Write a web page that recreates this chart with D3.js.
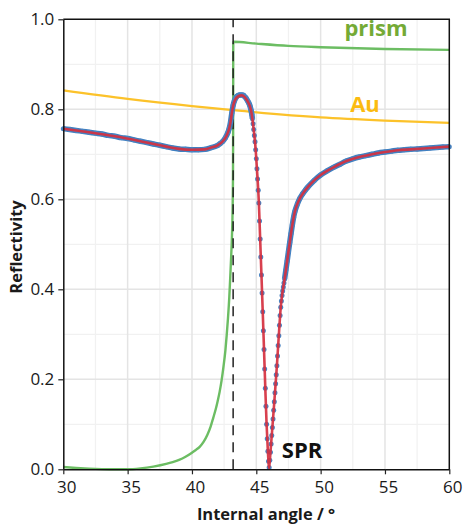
<!DOCTYPE html>
<html>
<head>
<meta charset="utf-8">
<script src="https://cdn.jsdelivr.net/npm/d3@7"></script>
<style>
  body { margin: 0; background: #fff; }
  text { font-family: "Open Sans", "Noto Sans", sans-serif; }
</style>
</head>
<body>
<script>
// ---- data ----
const xTicks = [30, 35, 40, 45, 50, 55, 60]
const yTicks = [0, 0.2, 0.4, 0.6, 0.8, 1.0]
const criticalAngle = 43.2

// prism reflectivity (green)
const prism = [
  [30, 0.005], [31, 0.003], [32, 0.0015], [33, 0.0005], [34, 0], [35, 0], [36, 0.002],
  [37, 0.006], [38, 0.012], [38.5, 0.016], [39, 0.021], [39.5, 0.028], [40, 0.037],
  [40.3, 0.043], [40.6, 0.05], [40.9, 0.061], [41.2, 0.077], [41.45, 0.095],
  [41.66, 0.115], [41.85, 0.134], [42, 0.152], [42.15, 0.172], [42.3, 0.197],
  [42.45, 0.228], [42.6, 0.265], [42.7, 0.298], [42.8, 0.336], [42.9, 0.382],
  [42.98, 0.43], [43.05, 0.475], [43.11, 0.52], [43.16, 0.58], [43.19, 0.66],
  [43.2, 0.75], [43.21, 0.95],
  [45, 0.946], [47.5, 0.941], [50, 0.938], [55, 0.934], [60, 0.932]
]

// Au layer reflectivity (gold)
const gold = [[30, 0.842], [35, 0.823], [40, 0.807], [43.2, 0.798], [50, 0.782], [55, 0.775], [60, 0.770]]

// measured points (blue)
const measured = [
  [30, 0.757], [30.5, 0.755], [31, 0.753], [31.5, 0.751], [32, 0.749], [32.5, 0.747],
  [33, 0.745], [33.5, 0.742], [34, 0.740], [34.5, 0.737], [35, 0.735], [35.5, 0.732],
  [36, 0.729], [36.5, 0.726], [37, 0.723], [37.5, 0.720], [38, 0.717], [38.5, 0.714],
  [39, 0.712], [39.5, 0.711], [40, 0.710], [40.5, 0.710], [41, 0.711], [41.5, 0.715],
  [42, 0.720], [42.2, 0.724], [42.4, 0.729], [42.6, 0.737], [42.8, 0.749], [42.9, 0.758],
  [43.0, 0.772], [43.1, 0.792], [43.2, 0.809], [43.3, 0.819], [43.4, 0.825], [43.5, 0.829],
  [43.6, 0.831], [43.7, 0.832], [43.8, 0.832], [43.9, 0.832], [44.0, 0.831], [44.1, 0.828],
  [44.2, 0.825], [44.3, 0.820], [44.4, 0.815], [44.5, 0.808], [44.55, 0.803],
  [44.60, 0.797], [44.65, 0.789], [44.70, 0.779], [44.75, 0.768], [44.80, 0.755],
  [44.85, 0.742], [44.90, 0.728], [44.95, 0.710], [45.00, 0.690], [45.05, 0.668],
  [45.10, 0.645], [45.15, 0.620], [45.20, 0.592], [45.25, 0.552], [45.30, 0.512],
  [45.35, 0.472], [45.40, 0.432], [45.45, 0.392], [45.50, 0.350], [45.55, 0.308],
  [45.60, 0.266], [45.65, 0.223], [45.70, 0.180], [45.75, 0.140], [45.80, 0.100],
  [45.85, 0.068], [45.90, 0.040], [45.95, 0.018], [46.00, 0.004], [46.05, 0.020],
  [46.10, 0.038], [46.15, 0.056], [46.20, 0.075], [46.25, 0.093], [46.30, 0.112],
  [46.35, 0.131], [46.40, 0.150], [46.45, 0.170], [46.50, 0.190], [46.55, 0.210],
  [46.60, 0.230], [46.65, 0.252], [46.70, 0.275], [46.75, 0.297], [46.80, 0.320],
  [46.85, 0.342], [46.90, 0.360], [46.95, 0.374], [47.00, 0.386], [47.05, 0.396],
  [47.10, 0.405], [47.15, 0.414], [47.20, 0.423], [47.3, 0.443], [47.4, 0.463],
  [47.5, 0.484], [47.6, 0.504], [47.7, 0.524], [47.8, 0.543], [47.9, 0.560], [48.0, 0.573],
  [48.2, 0.590], [48.4, 0.603], [48.6, 0.612], [48.8, 0.620], [49, 0.627], [49.5, 0.642],
  [50, 0.654], [50.5, 0.663], [51, 0.671], [51.5, 0.678], [52, 0.685], [52.5, 0.690],
  [53, 0.694], [53.5, 0.697], [54, 0.700], [54.5, 0.703], [55, 0.705], [55.5, 0.707],
  [56, 0.709], [56.5, 0.710], [57, 0.711], [57.5, 0.712], [58, 0.713], [58.5, 0.714],
  [59, 0.715], [59.5, 0.716], [60, 0.717]
]

// fitted curve (red)
const fit = [
  [30, 0.757], [32, 0.749], [34, 0.740], [36, 0.729], [38, 0.717], [39, 0.712], [40, 0.710],
  [41, 0.711], [41.5, 0.715], [42, 0.720], [42.4, 0.729], [42.7, 0.742], [42.9, 0.758],
  [43.0, 0.772], [43.1, 0.792], [43.2, 0.808], [43.35, 0.821], [43.6, 0.829], [43.85, 0.831],
  [44.1, 0.827], [44.3, 0.819], [44.5, 0.807], [44.6, 0.796], [44.7, 0.778], [44.8, 0.754],
  [44.9, 0.727], [45.0, 0.690], [45.1, 0.645], [45.2, 0.592], [45.3, 0.512], [45.4, 0.432],
  [45.5, 0.350], [45.6, 0.266], [45.7, 0.180], [45.8, 0.100], [45.9, 0.040], [46.0, 0.003],
  [46.1, 0.038], [46.2, 0.075], [46.3, 0.112], [46.4, 0.150], [46.5, 0.190], [46.6, 0.230],
  [46.7, 0.275], [46.8, 0.320], [46.9, 0.360], [47.0, 0.386], [47.2, 0.423], [47.4, 0.463],
  [47.6, 0.504], [47.8, 0.543], [48.0, 0.573], [48.3, 0.597], [48.65, 0.614], [49, 0.627],
  [49.5, 0.642], [50, 0.654], [51, 0.671], [52, 0.685], [53, 0.694], [54, 0.700],
  [55, 0.705], [56, 0.709], [57, 0.711], [58, 0.713], [59, 0.715], [60, 0.717]
]

// ---- chart ----
const width = 465
const height = 526
const margin = {top: 19.3, right: 15.7, bottom: 56.7, left: 63.3}

const svg = d3.select("body").append("svg")
  .attr("width", width)
  .attr("height", height)

const x = d3.scaleLinear().domain([30, 60]).range([margin.left, width - margin.right])
const y = d3.scaleLinear().domain([0, 1]).range([height - margin.bottom, margin.top])

// grid (minor + major)
const minorX = d3.range(32.5, 60, 5)
const minorY = d3.range(0.1, 1, 0.2)
svg.append("g").selectAll("line").data(minorX).join("line")
  .attr("x1", d => x(d)).attr("x2", d => x(d))
  .attr("y1", y(0)).attr("y2", y(1))
  .attr("stroke", "#f1f1f1").attr("stroke-width", 1.2)
svg.append("g").selectAll("line").data(minorY).join("line")
  .attr("x1", x(30)).attr("x2", x(60))
  .attr("y1", d => y(d)).attr("y2", d => y(d))
  .attr("stroke", "#f1f1f1").attr("stroke-width", 1.2)
svg.append("g").selectAll("line").data(xTicks.slice(1, -1)).join("line")
  .attr("x1", d => x(d)).attr("x2", d => x(d))
  .attr("y1", y(0)).attr("y2", y(1))
  .attr("stroke", "#e4e4e4").attr("stroke-width", 1.5)
svg.append("g").selectAll("line").data(yTicks.slice(1, -1)).join("line")
  .attr("x1", x(30)).attr("x2", x(60))
  .attr("y1", d => y(d)).attr("y2", d => y(d))
  .attr("stroke", "#e4e4e4").attr("stroke-width", 1.5)

const line = d3.line().x(d => x(d[0])).y(d => y(d[1])).curve(d3.curveMonotoneX)

// gold
svg.append("path").datum(gold)
  .attr("d", line)
  .attr("fill", "none").attr("stroke", "#fcc22a").attr("stroke-width", 2.2)

// prism
svg.append("path").datum(prism)
  .attr("d", line)
  .attr("fill", "none").attr("stroke", "#6cbd63").attr("stroke-width", 2.4)

// critical angle
svg.append("line")
  .attr("x1", x(criticalAngle)).attr("x2", x(criticalAngle))
  .attr("y1", y(0)).attr("y2", y(1))
  .attr("stroke", "#222").attr("stroke-width", 1.5)
  .attr("stroke-dasharray", "10,7")

// measured band (dense part) + points
const band = d3.line()
  .defined(d => d[0] <= 44.7 || d[0] >= 47.2)
  .x(d => x(d[0])).y(d => y(d[1]))
  .curve(d3.curveMonotoneX)
svg.append("path").datum(measured)
  .attr("d", band)
  .attr("fill", "none").attr("stroke", "#3e7fc0").attr("stroke-width", 5.5)
  .attr("stroke-linecap", "butt")
svg.append("g").selectAll("circle").data(measured).join("circle")
  .attr("cx", d => x(d[0])).attr("cy", d => y(d[1]))
  .attr("r", 2.5)
  .attr("fill", "#4a84c2")

// fit
svg.append("path").datum(fit)
  .attr("d", line)
  .attr("fill", "none").attr("stroke", "#d5303f").attr("stroke-width", 2.6)
  .attr("stroke-opacity", 0.92)

// axes
const xAxis = svg.append("g")
  .attr("transform", `translate(0,${y(0)})`)
  .call(d3.axisBottom(x).tickValues(xTicks).tickSize(5).tickSizeOuter(0).tickPadding(7))
xAxis.selectAll("text").attr("dx", 3)

const yAxis = svg.append("g")
  .attr("transform", `translate(${x(30)},0)`)
  .call(d3.axisLeft(y).tickValues(yTicks).tickFormat(d3.format(".1f")).tickSize(5).tickSizeOuter(0).tickPadding(4))

svg.selectAll(".tick text").attr("font-size", 17).attr("fill", "#1a1a1a")
  .style("font-family", "'Open Sans', sans-serif")
svg.selectAll(".tick line").attr("stroke", "#222").attr("stroke-width", 1.2)
svg.selectAll(".domain").attr("stroke", "#111").attr("stroke-width", 1.5)

// top and right border
svg.append("path")
  .attr("d", `M${x(30)},${y(1)}H${x(60)}V${y(0)}`)
  .attr("fill", "none").attr("stroke", "#111").attr("stroke-width", 1.5)

// axis titles
svg.append("text")
  .attr("x", 266).attr("y", 520)
  .attr("text-anchor", "middle")
  .attr("font-size", 16.5).attr("font-weight", "bold").attr("fill", "#1a1a1a")
  .text("Internal angle / °")

svg.append("text")
  .attr("transform", "translate(22,247) rotate(-90)")
  .attr("text-anchor", "middle")
  .attr("font-size", 16.5).attr("font-weight", "bold").attr("fill", "#1a1a1a")
  .text("Reflectivity")

// curve labels
svg.append("text").attr("x", 376).attr("y", 36)
  .attr("text-anchor", "middle")
  .attr("font-size", 22).attr("font-weight", "bold").attr("fill", "#74aa35")
  .text("prism")
svg.append("text").attr("x", 365).attr("y", 112)
  .attr("text-anchor", "middle")
  .attr("font-size", 22).attr("font-weight", "bold").attr("fill", "#fbbb10")
  .text("Au")
svg.append("text").attr("x", 302).attr("y", 458)
  .attr("text-anchor", "middle")
  .attr("font-size", 22).attr("font-weight", "bold").attr("fill", "#111")
  .text("SPR")
</script>
</body>
</html>
